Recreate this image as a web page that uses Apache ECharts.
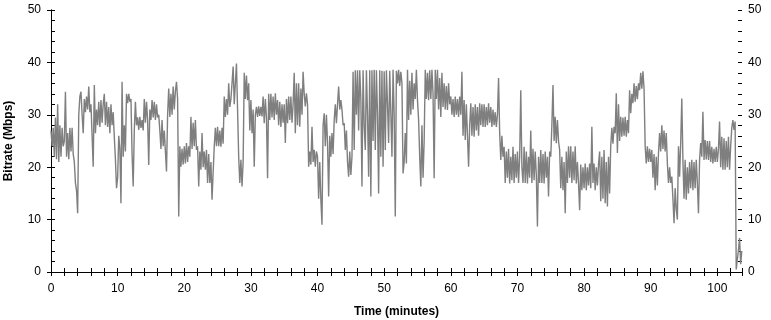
<!DOCTYPE html>
<html>
<head>
<meta charset="utf-8">
<title>Bitrate</title>
<script src="https://cdn.jsdelivr.net/npm/echarts@6/dist/echarts.min.js"></script>
<style>
  html, body { margin: 0; padding: 0; background: #fff; }
  #chart { width: 771px; height: 320px; }
</style>
</head>
<body>
<div id="chart"></div>
<script>
// six readings per minute (every 10 s)
const SAMPLES_PER_MIN = 6
const TIME_MAX = 103.7

const bitrate = [
  // 0-9 min
  27, 24, 27.5, 22, 29.5, 21.5,   32, 21, 28, 22, 27.5, 24,       25, 34.4, 22, 26.5, 21.5, 27.5,
  23, 27.5, 22.5, 21, 17, 15.5,   11.2, 30, 33.5, 34.4, 30, 26.5,  33, 30.5, 33.5, 31, 35.4, 30.5,
  32, 26, 20.1, 35.7, 26.5, 31,   28, 32.5, 27.7, 32.8, 28.5, 32,  34, 28, 32.5, 27.7, 31.5, 26.5,
  32, 28, 30.5, 25.8, 21.5, 16,
  // 10-19
  18, 26, 23.5, 13.1, 36.3, 22,   28, 23, 34, 32.2, 34, 32.5,      33, 22.5, 16.3, 27, 32.5, 28,
  29.5, 27.1, 29.6, 27.5, 29, 27, 33, 28.5, 32.5, 29, 20.4, 31,   29, 32.8, 29.5, 32.5, 29, 32,
  29.5, 30, 27, 23.5, 29, 24,     27, 23, 19.2, 30, 35, 29.6,      34, 30, 35.4, 31, 34.5, 36.3,
  33, 10.6, 24, 20.1, 23.5, 20.5,
  // 20-29
  24, 20.7, 24.6, 21, 24, 22,     29.6, 23.5, 28.5, 24, 29, 23.3,  24, 16.3, 23, 19.5, 26.5, 20,
  23, 19.5, 23.3, 17, 22.5, 17,   21, 13.8, 19, 24, 27.5, 24,      27.7, 24, 27, 23.9, 27.5, 24.5,
  33.5, 29.6, 33, 30, 36, 31.5,   33, 36, 39.2, 32, 36, 39.8,      39.5, 22, 17, 21.4, 16.3, 21,
  38, 33, 37.5, 32.8, 36, 27,
  // 30-39
  32.8, 26.5, 31, 20.1, 30, 31.5, 29.6, 31.6, 29.8, 31.5, 29.7, 33.5, 28.4, 33, 29.5, 17.9, 34, 29,
  34, 29.5, 33.5, 29, 34.1, 30,   32.8, 28, 32.5, 27.7, 32, 28.5,  32, 24.6, 33, 28.4, 33.5, 29,
  33.5, 28.5, 32, 38, 26.5, 36,   28, 36, 27.7, 35, 30, 38.2,      34, 31.6, 34.1, 32, 20.1, 23,
  20.5, 27.7, 21, 23.3, 20.1, 23,
  // 40-49
  22, 14, 21, 13.8, 9, 28,        30.3, 24, 30, 24.5, 14.4, 26,    22, 26.5, 22.5, 29, 32, 28.4,
  32, 35.4, 31, 32.8, 31, 28,     28.4, 23.3, 27, 21, 18.2, 23,    18.5, 22, 38.2, 23.3, 38.5, 30,
  38.5, 27, 38.5, 33, 16.3, 38.5, 28, 23.3, 38.5, 30, 18.2, 38.5,  14.4, 38.5, 25, 38.6, 23.3, 38.5,
  30, 15, 38.5, 22, 38.4, 20.1,
  // 50-59
  38.3, 23.3, 38.5, 32, 24.6, 38.4, 38.5, 22, 38.6, 30, 10.6, 38.4, 36, 38.6, 35.5, 38.2, 36, 18.8,
  21, 26.5, 20.7, 38.6, 29, 36.5, 30, 38, 31, 36, 33, 38.6,        32.8, 29, 22, 16.3, 28, 18,
  25, 38.6, 33, 38, 32.8, 38.5,   33, 38.6, 34, 17.9, 38.6, 33,    38.6, 31, 37, 29.6, 38, 31.5,
  36, 31, 35.5, 30.9, 36, 32,
  // 60-69
  33.5, 30, 33, 29.6, 33.5, 30,   33, 29.6, 33.5, 30, 38.2, 26,    32.8, 25.2, 32, 26, 20.1, 28,
  32.2, 26, 31.5, 25.8, 32, 27,   31.5, 26, 32.2, 28, 32, 27.7,    32, 27.7, 31.5, 28, 32.2, 28.5,
  31.5, 27.7, 31, 28, 30.5, 27.7, 30, 37, 26.5, 21.4, 26, 22,      23.9, 17, 23, 18, 23.5, 16.9,
  22, 17.5, 23.9, 17, 22.5, 18,
  // 70-79
  23, 17, 22, 34.7, 20, 17,       23.9, 17, 23, 16.9, 22, 18,      27, 17, 23.5, 17.5, 23, 18.5,
  8.7, 22, 17, 23.3, 17, 22.5,    16.9, 23, 18, 22, 14.4, 23,      22, 28, 35.7, 25, 29.6, 24.6,
  29, 25, 23.3, 16, 22, 15.6,     21, 11.2, 23, 17, 24, 18,        24, 17, 23, 17.5, 24, 16.9,
  21, 17, 11.8, 20.5, 15.6, 20,
  // 80-89
  16, 20.7, 15.6, 20, 16.5, 20.7, 16, 27.7, 17, 20.7, 15.6, 20,    16.5, 20.5, 23, 13.5, 22, 14,
  23.3, 13.1, 21, 12.5, 22, 15,   24, 27.5, 24.5, 27.7, 26.5, 34.1, 22.7, 32, 25, 29.6, 25.8, 29.5,
  26, 29.6, 25.8, 29, 26.5, 34.7, 30.3, 34, 32.2, 36, 32.5, 35.5,  33, 36, 34.7, 38, 35, 38.3,
  35, 24, 20.7, 24, 21, 23.5,
  // 90-99
  21, 23.3, 18, 22.5, 15.6, 22,   16.5, 22.7, 26.5, 23, 28, 23.5,  27, 23, 26.5, 20.7, 17, 20,
  17, 18.2, 14, 9.3, 16, 12,      10, 24, 18.2, 24.6, 33.1, 21.4,  14, 21.4, 13.8, 20, 15, 21,
  16, 21.4, 15.6, 21, 16, 21.4,   17, 11.2, 21.4, 24.6, 22, 30.6,  21.4, 25.2, 21.5, 25, 21.4, 25,
  21, 23.9, 20.7, 23.5, 21, 23.9,
  // 100-103.7
  21, 23.5, 28.7, 20, 25.8, 19.5, 25.5, 19.5, 25, 20, 25.8, 19.5,  24, 27.5, 29, 27.1, 28.7, 0.5,
  0.3, 4.2, 6.5, 1.5, 4,
]

const yTicks = [0, 10, 20, 30, 40, 50]
const xTicks = [0, 10, 20, 30, 40, 50, 60, 70, 80, 90, 100]

const chart = echarts.init(document.getElementById('chart'))

const FONT = 'Liberation Sans, Arial, sans-serif'
const axisLine = { show: true, lineStyle: { color: '#000', width: 1 } }
const tickStyle = { color: '#000', width: 1 }
const labelStyle = { color: '#000', fontSize: 12, fontFamily: FONT }
const nameStyle = { color: '#000', fontSize: 12, fontWeight: 'bold', fontFamily: FONT }

const xBase = { type: 'value', min: 0, max: TIME_MAX, splitLine: { show: false } }
const yBase = { type: 'value', min: yTicks[0], max: yTicks[yTicks.length - 1], splitLine: { show: false } }

const option = {
  animation: false,
  backgroundColor: '#fff',
  grid: { left: 51, right: 29, top: 10, bottom: 48, outerBoundsMode: 'none' },
  xAxis: [
    {
      ...xBase,
      position: 'bottom',
      interval: 10,
      axisLine,
      axisTick: { show: true, inside: false, length: 4, lineStyle: tickStyle },
      axisLabel: {
        ...labelStyle, margin: 11, showMaxLabel: false,
        formatter: v => (xTicks.includes(v) ? String(v) : ''),
      },
      name: 'Time (minutes)',
      nameLocation: 'middle',
      nameGap: 34,
      nameTextStyle: nameStyle,
    },
    {
      ...xBase,
      position: 'bottom',
      interval: 2,
      axisLine: { show: false },
      axisTick: { show: true, inside: true, length: 4, lineStyle: tickStyle },
      axisLabel: { show: false },
    },
    {
      ...xBase,
      position: 'top',
      interval: 2,
      axisLine,
      axisTick: { show: true, inside: true, length: 4, lineStyle: tickStyle },
      axisLabel: { show: false },
    },
  ],
  yAxis: [
    {
      ...yBase,
      position: 'left',
      interval: 10,
      axisLine,
      axisTick: { show: true, inside: false, length: 4, lineStyle: tickStyle },
      axisLabel: { ...labelStyle, margin: 10 },
      name: 'Bitrate (Mbps)',
      nameLocation: 'middle',
      nameGap: 36,
      nameTextStyle: nameStyle,
    },
    {
      ...yBase,
      position: 'left',
      interval: 2,
      axisLine: { show: false },
      axisTick: { show: true, inside: true, length: 4, lineStyle: tickStyle },
      axisLabel: { show: false },
    },
    {
      ...yBase,
      position: 'right',
      interval: 10,
      axisLine,
      axisTick: { show: true, inside: false, length: 4, lineStyle: tickStyle },
      axisLabel: { ...labelStyle, margin: 6 },
    },
    {
      ...yBase,
      position: 'right',
      interval: 2,
      axisLine: { show: false },
      axisTick: { show: true, inside: true, length: 4, lineStyle: tickStyle },
      axisLabel: { show: false },
    },
  ],
  series: [
    {
      name: 'Bitrate',
      type: 'line',
      xAxisIndex: 0,
      yAxisIndex: 0,
      data: bitrate.map((v, i) => [i / SAMPLES_PER_MIN, v]),
      symbol: 'none',
      sampling: 'none',
      lineStyle: { color: '#7f7f7f', width: 1.4 },
    },
  ],
}

chart.setOption(option)
</script>
</body>
</html>
